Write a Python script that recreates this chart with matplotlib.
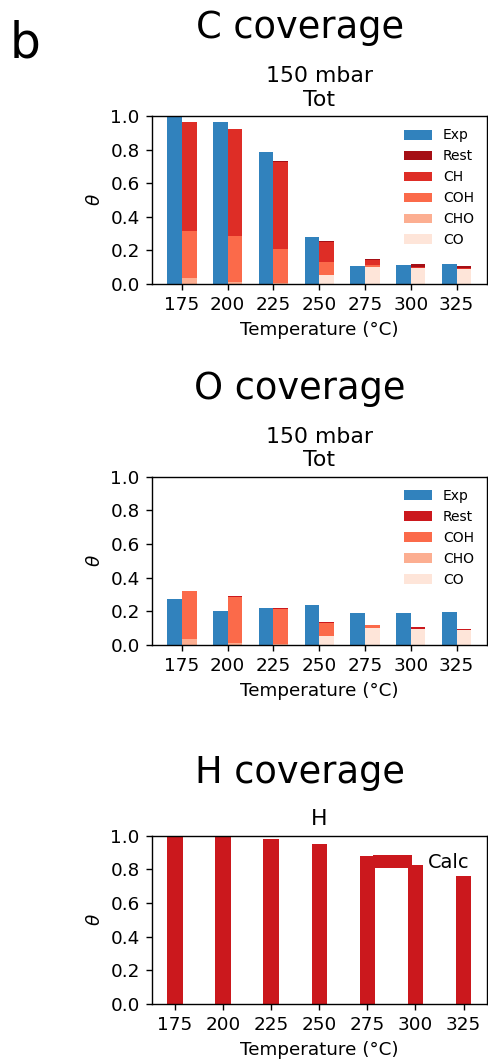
import matplotlib
matplotlib.use("Agg")
import matplotlib.pyplot as plt
import numpy as np

# temperatures (°C)
temps = np.array([175, 200, 225, 250, 275, 300, 325])

# experimental coverages
exp_C = [1.0, 0.962, 0.784, 0.279, 0.107, 0.115, 0.119]
exp_O = [0.275, 0.202, 0.222, 0.238, 0.190, 0.190, 0.196]

# calculated species coverages (stacked)
cov_CO = [0.0, 0.0, 0.0, 0.054, 0.103, 0.096, 0.090]
cov_CHO = [0.037, 0.013, 0.008, 0.002, 0.0, 0.0, 0.0]
cov_COH = [0.281, 0.275, 0.203, 0.077, 0.013, 0.002, 0.001]
cov_CH = [0.644, 0.633, 0.516, 0.117, 0.025, 0.003, 0.002]
rest_C = [0.002, 0.002, 0.004, 0.005, 0.008, 0.020, 0.016]
rest_O = [0.002, 0.002, 0.006, 0.004, 0.005, 0.011, 0.004]

# hydrogen coverage
calc_H = [0.995, 0.994, 0.980, 0.950, 0.881, 0.828, 0.760]

blue = '#3182bd'
reds5 = ['#fee5d9', '#fcae91', '#fb6a4a', '#de2d26', '#a50f15']
reds4 = ['#fee5d9', '#fcae91', '#fb6a4a', '#cb181d']

plt.rcParams['font.size'] = 10.6
plt.rcParams['xtick.major.size'] = 3.5
plt.rcParams['ytick.major.size'] = 3.5

W, H = 488, 1063
fig = plt.figure(figsize=(W / 125, H / 125), dpi=125)


def px_axes(top, bottom, left=152, right=486.5):
    return fig.add_axes([left / W, 1 - bottom / H, (right - left) / W, (bottom - top) / H])


w = 8

# ---- C coverage
ax1 = px_axes(116, 284)
ax1.bar(temps - w / 2, exp_C, w, color=blue, label='Exp')
stack = [(cov_CO, 'CO'), (cov_CHO, 'CHO'), (cov_COH, 'COH'), (cov_CH, 'CH'), (rest_C, 'Rest')]
bottom = np.zeros(len(temps))
for (vals, lab), col in zip(stack, reds5):
    ax1.bar(temps + w / 2, vals, w, bottom=bottom, color=col, label=lab)
    bottom += np.array(vals)
h, l = ax1.get_legend_handles_labels()
order = [0, 5, 4, 3, 2, 1]
ax1.legend([h[i] for i in order], [l[i] for i in order], fontsize=8, frameon=False, loc='upper right')

# ---- O coverage
ax2 = px_axes(476.7, 645)
ax2.bar(temps - w / 2, exp_O, w, color=blue, label='Exp')
stack = [(cov_CO, 'CO'), (cov_CHO, 'CHO'), (cov_COH, 'COH'), (rest_O, 'Rest')]
bottom = np.zeros(len(temps))
for (vals, lab), col in zip(stack, reds4):
    ax2.bar(temps + w / 2, vals, w, bottom=bottom, color=col, label=lab)
    bottom += np.array(vals)
h, l = ax2.get_legend_handles_labels()
order = [0, 4, 3, 2, 1]
ax2.legend([h[i] for i in order], [l[i] for i in order], fontsize=8, frameon=False, loc='upper right')

for ax in (ax1, ax2):
    ax.set_title('150 mbar\nTot', fontsize=12.7)

# ---- H coverage
ax3 = px_axes(835.7, 1004)
ax3.bar(temps, calc_H, w, color='#cb181d', label='Calc')
ax3.legend(fontsize=11.2, frameon=False, loc='upper right')
ax3.set_title('H', fontsize=12.7)

for ax in (ax1, ax2, ax3):
    ax.set_ylim(0, 1)
    ax.set_yticks([0, 0.2, 0.4, 0.6, 0.8, 1.0])
    ax.set_xticks(temps)
    ax.set_xlabel('Temperature (°C)')
    ax.set_ylabel(r'$\theta$')

fig.text(300 / W, 1 - 38 / H, 'C coverage', fontsize=21.2, ha='center', va='baseline')
fig.text(300 / W, 1 - 399 / H, 'O coverage', fontsize=21.2, ha='center', va='baseline')
fig.text(300 / W, 1 - 783 / H, 'H coverage', fontsize=21.2, ha='center', va='baseline')
fig.text(10 / W, 1 - 58 / H, 'b', fontsize=28, ha='left', va='baseline')

fig.savefig('out.png', dpi=125)
